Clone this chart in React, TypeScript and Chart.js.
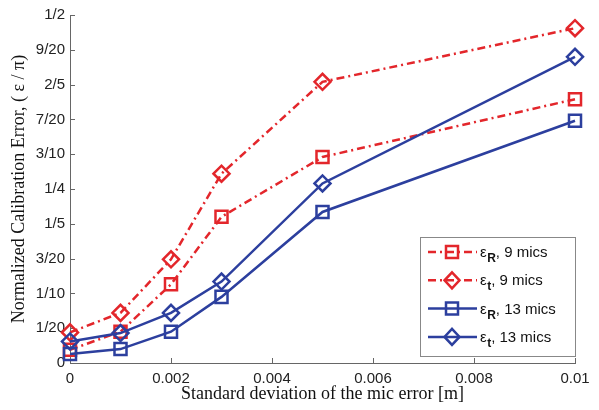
import React, { useEffect, useRef } from 'react';
import { Chart, registerables } from 'chart.js';

Chart.register(...registerables);

const xValues = [0, 0.001, 0.002, 0.003, 0.005, 0.01];
const xTickLabels = ['0', '0.002', '0.004', '0.006', '0.008', '0.01'];
const yTickLabels = ['0', '1/20', '1/10', '3/20', '1/5', '1/4', '3/10', '7/20', '2/5', '9/20', '1/2'];

const epsR9 = [0.019, 0.045, 0.113, 0.21, 0.296, 0.379];
const epsT9 = [0.044, 0.072, 0.149, 0.272, 0.404, 0.481];
const epsR13 = [0.013, 0.02, 0.045, 0.095, 0.217, 0.348];
const epsT13 = [0.031, 0.043, 0.072, 0.117, 0.258, 0.44];

const legendSubs = ['R', 't', 'R', 't'];
const legendRest = [', 9 mics', ', 9 mics', ', 13 mics', ', 13 mics'];

const RED = '#e3262b';
const BLUE = '#2c3f9e';
const DASHDOT = [8, 4, 2, 4];

const toPoints = (ys: number[]) => xValues.map((x, i) => ({ x, y: ys[i] }));

const inwardTicks = {
  id: 'inwardTicks',
  beforeDatasetsDraw(chart: any) {
    const { ctx, chartArea: a, scales } = chart;
    ctx.save();
    ctx.strokeStyle = '#666';
    ctx.lineWidth = 1;
    scales.x.ticks.forEach((t: any) => {
      const p = Math.round(scales.x.getPixelForValue(t.value)) + 0.5;
      ctx.beginPath();
      ctx.moveTo(p, a.bottom);
      ctx.lineTo(p, a.bottom - 5);
      ctx.stroke();
    });
    scales.y.ticks.forEach((t: any) => {
      const p = Math.round(scales.y.getPixelForValue(t.value)) + 0.5;
      ctx.beginPath();
      ctx.moveTo(a.left, p);
      ctx.lineTo(a.left + 5, p);
      ctx.stroke();
    });
    ctx.restore();
  },
};

function drawMarker(ctx: CanvasRenderingContext2D, style: string, x: number, y: number, color: string) {
  ctx.save();
  ctx.strokeStyle = color;
  ctx.lineWidth = 2.5;
  ctx.setLineDash([]);
  ctx.beginPath();
  if (style === 'rect') {
    ctx.rect(x - 6, y - 6, 12, 12);
  } else {
    ctx.moveTo(x, y - 8);
    ctx.lineTo(x + 7.5, y);
    ctx.lineTo(x, y + 8);
    ctx.lineTo(x - 7.5, y);
    ctx.closePath();
  }
  ctx.stroke();
  ctx.restore();
}

const customLegend = {
  id: 'customLegend',
  afterDraw(chart: any) {
    const { ctx, chartArea: a } = chart;
    const w = 155;
    const h = 119;
    const x0 = a.right - w;
    const y0 = a.bottom - 126;
    ctx.save();
    ctx.fillStyle = '#ffffff';
    ctx.fillRect(x0, y0, w, h);
    ctx.strokeStyle = '#888';
    ctx.lineWidth = 1;
    ctx.strokeRect(x0 + 0.5, y0 + 0.5, w, h);
    chart.data.datasets.forEach((ds: any, i: number) => {
      const cy = y0 + 15 + i * 28.3;
      ctx.save();
      ctx.strokeStyle = ds.borderColor;
      ctx.lineWidth = ds.borderWidth;
      ctx.setLineDash(ds.borderDash || []);
      ctx.beginPath();
      ctx.moveTo(x0 + 8, cy);
      ctx.lineTo(x0 + 57, cy);
      ctx.stroke();
      ctx.restore();
      drawMarker(ctx, ds.pointStyle, x0 + 32, cy, ds.borderColor);
      const base = cy + 5;
      ctx.fillStyle = '#111';
      ctx.textBaseline = 'alphabetic';
      ctx.textAlign = 'left';
      let tx = x0 + 60;
      ctx.font = '15px "Liberation Sans"';
      ctx.fillText('ε', tx, base);
      tx += ctx.measureText('ε').width + 0.5;
      ctx.font = 'bold 12px "Liberation Sans"';
      ctx.fillText(legendSubs[i], tx, base + 5);
      tx += ctx.measureText(legendSubs[i]).width;
      ctx.font = '15px "Liberation Sans"';
      ctx.fillText(legendRest[i], tx, base);
    });
    ctx.restore();
  },
};

export default function App() {
  const ref = useRef<HTMLCanvasElement>(null);

  useEffect(() => {
    document.body.style.margin = '0';
    const canvas = ref.current;
    if (!canvas) return;
    const chart = new Chart(canvas, {
      type: 'line',
      data: {
        datasets: [
          {
            label: 'εR, 9 mics',
            data: toPoints(epsR9),
            borderColor: RED,
            backgroundColor: 'transparent',
            borderWidth: 2.5,
            borderDash: DASHDOT,
            pointStyle: 'rect',
            pointRadius: 8.5,
            pointBorderWidth: 2.5,
            pointBackgroundColor: 'transparent',
            pointBorderColor: RED,
            order: 4,
            clip: false,
          },
          {
            label: 'εt, 9 mics',
            data: toPoints(epsT9),
            borderColor: RED,
            backgroundColor: 'transparent',
            borderWidth: 2.5,
            borderDash: DASHDOT,
            pointStyle: 'rectRot',
            pointRadius: 8,
            pointBorderWidth: 2.5,
            pointBackgroundColor: 'transparent',
            pointBorderColor: RED,
            order: 3,
            clip: false,
          },
          {
            label: 'εR, 13 mics',
            data: toPoints(epsR13),
            borderColor: BLUE,
            backgroundColor: 'transparent',
            borderWidth: 2.5,
            pointStyle: 'rect',
            pointRadius: 8.5,
            pointBorderWidth: 2.5,
            pointBackgroundColor: 'transparent',
            pointBorderColor: BLUE,
            order: 2,
            clip: false,
          },
          {
            label: 'εt, 13 mics',
            data: toPoints(epsT13),
            borderColor: BLUE,
            backgroundColor: 'transparent',
            borderWidth: 2.5,
            pointStyle: 'rectRot',
            pointRadius: 8,
            pointBorderWidth: 2.5,
            pointBackgroundColor: 'transparent',
            pointBorderColor: BLUE,
            order: 1,
            clip: false,
          },
        ] as any,
      },
      options: {
        animation: false,
        responsive: false,
        devicePixelRatio: 1,
        layout: { padding: { top: 15, right: 24, left: 0, bottom: 0 } },
        plugins: {
          legend: { display: false },
          tooltip: { enabled: false },
        },
        scales: {
          x: {
            type: 'linear',
            min: 0,
            max: 0.01,
            grid: { display: false, drawTicks: false },
            border: { display: true, color: '#666', width: 1 },
            ticks: {
              stepSize: 0.002,
              padding: 7,
              autoSkip: false,
              maxRotation: 0,
              color: '#222',
              font: { family: 'Liberation Sans', size: 15 },
              callback: (_v: any, i: number) => xTickLabels[i],
            },
            title: {
              display: true,
              text: 'Standard deviation of the mic error [m]',
              color: '#111',
              font: { family: 'Liberation Serif', size: 18 },
              padding: { top: 0, bottom: 5 },
            },
            afterFit: (s: any) => {
              s.height = 47;
            },
          },
          y: {
            type: 'linear',
            min: 0,
            max: 0.5,
            grid: { display: false, drawTicks: false },
            border: { display: true, color: '#666', width: 1 },
            ticks: {
              stepSize: 0.05,
              padding: 5,
              autoSkip: false,
              color: '#222',
              font: { family: 'Liberation Sans', size: 15 },
              callback: (_v: any, i: number) => yTickLabels[i],
            },
            title: {
              display: true,
              text: 'Normalized Calibration Error, ( ε / π)',
              color: '#111',
              font: { family: 'Liberation Serif', size: 18 },
              padding: { top: 8, bottom: 0 },
            },
            afterFit: (s: any) => {
              s.width = 70;
            },
          },
        },
      } as any,
      plugins: [inwardTicks, customLegend],
    });
    return () => chart.destroy();
  }, []);

  return (
    <div style={{ width: 599, height: 410 }}>
      <canvas ref={ref} width={599} height={410} style={{ display: 'block' }} />
    </div>
  );
}
